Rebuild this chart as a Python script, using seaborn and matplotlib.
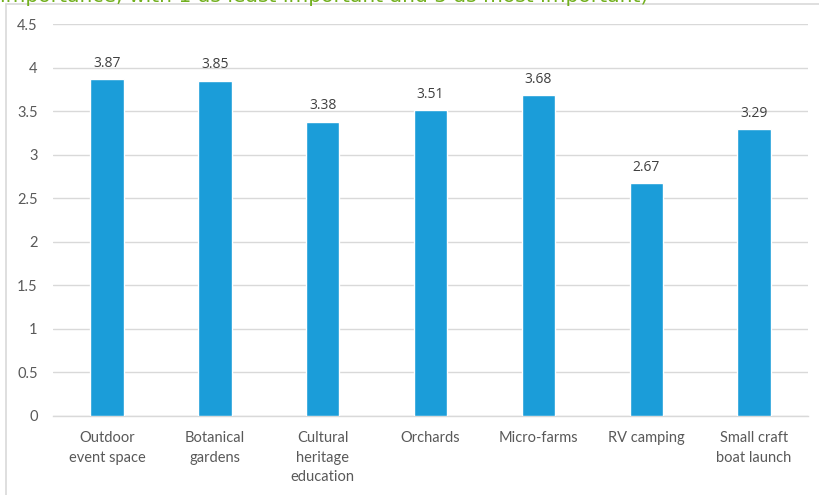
import matplotlib
matplotlib.use("Agg")
import matplotlib.pyplot as plt
import seaborn as sns
import pandas as pd

categories = ["Outdoor\nevent space", "Botanical\ngardens", "Cultural\nheritage\neducation",
              "Orchards", "Micro-farms", "RV camping", "Small craft\nboat launch"]
scores = [3.87, 3.85, 3.38, 3.51, 3.68, 2.67, 3.29]
y_ticks = [0, 0.5, 1, 1.5, 2, 2.5, 3, 3.5, 4, 4.5]
tick_labels = ["0", "0.5", "1", "1.5", "2", "2.5", "3", "3.5", "4", "4.5"]
title = "importance, with 1 as least important and 5 as most important)"

sns.set_theme(style="white")
plt.rcParams["font.family"] = ["Lato", "DejaVu Sans"]

df = pd.DataFrame({"category": categories, "score": scores})

fig = plt.figure(figsize=(8.19, 4.95), dpi=100)
ax = fig.add_axes([0.0647, 0.1596, 0.9219, 0.7919])

sns.barplot(data=df, x="category", y="score", color="#1B9DD9", width=0.31,
            saturation=1, ax=ax, zorder=3)

ax.set_ylim(0, 4.5)
ax.set_xlim(-0.5, len(categories) - 0.5)
ax.set_yticks(y_ticks)
ax.set_yticklabels(tick_labels)
ax.yaxis.grid(True, color="#D9D9D9", linewidth=1.0, zorder=0)
ax.set_axisbelow(True)
for s in ["top", "right", "left"]:
    ax.spines[s].set_visible(False)
ax.spines["bottom"].set_color("#D9D9D9")
ax.spines["bottom"].set_linewidth(1.0)
ax.set_xlabel("")
ax.set_ylabel("")
ax.tick_params(axis="y", length=0, pad=11, labelsize=10.5, labelcolor="#595959")
ax.tick_params(axis="x", length=0, pad=11, labelsize=10.5, labelcolor="#595959")
for lab in ax.get_xticklabels():
    lab.set_linespacing(1.5)
    lab.set_verticalalignment("top")

for i, v in enumerate(scores):
    ax.annotate(f"{v:.2f}", xy=(i, v), xytext=(0, 6), textcoords="offset points",
                ha="center", va="bottom", fontsize=10, color="#404040",
                family=["Open Sans", "DejaVu Sans"])

# outer frame lines
fig.add_artist(plt.Line2D([6 / 819, 6 / 819], [0, 1 - 4 / 495], transform=fig.transFigure,
                          color="#D9D9D9", linewidth=1.2))
fig.add_artist(plt.Line2D([6 / 819, 1], [1 - 4 / 495, 1 - 4 / 495], transform=fig.transFigure,
                          color="#D9D9D9", linewidth=1.2))

# title running off the top edge
fig.text(0 / 819, 1 - 2 / 495, title, ha="left", va="baseline", fontsize=14.6,
         color="#72B01E", family=["DejaVu Sans"])

fig.savefig("out.png", dpi=100)
